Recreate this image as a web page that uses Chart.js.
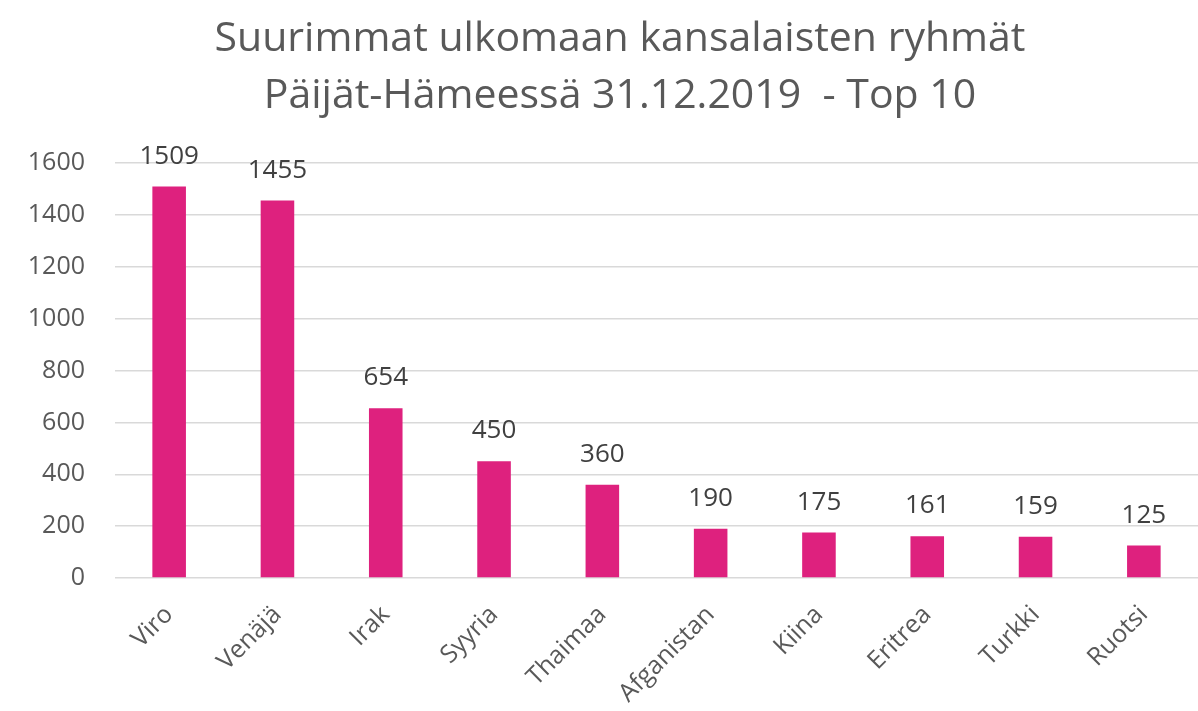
<!DOCTYPE html>
<html>
<head>
<meta charset="utf-8">
<script src="https://cdn.jsdelivr.net/npm/chart.js@4"></script>
<style>
  html, body { margin: 0; padding: 0; background: #fff; }
  #wrap { width: 1198px; height: 711px; position: relative; }
</style>
</head>
<body>
<div id="wrap"><canvas id="chart"></canvas></div>
<script>
const maat = ["Viro", "Venäjä", "Irak", "Syyria", "Thaimaa", "Afganistan", "Kiina", "Eritrea", "Turkki", "Ruotsi"];
const henkilot = [1509, 1455, 654, 450, 360, 190, 175, 161, 159, 125];
const otsikko = ["Suurimmat ulkomaan kansalaisten ryhmät", "Päijät-Hämeessä 31.12.2019  - Top 10"];

const fontti = "'Open Sans', sans-serif";

// arvot pylväiden päälle
const arvoPlugin = {
  id: "arvot",
  afterDatasetsDraw(chart) {
    const ctx = chart.ctx;
    const meta = chart.getDatasetMeta(0);
    ctx.save();
    ctx.font = "26px " + fontti;
    ctx.fillStyle = "#404040";
    ctx.textAlign = "center";
    ctx.textBaseline = "alphabetic";
    meta.data.forEach((bar, i) => {
      ctx.fillText(henkilot[i], bar.x, bar.y - 23);
    });
    ctx.restore();
  }
};

// otsikko piirretään itse, koska se on kuvassa hieman oikealla keskeltä
const otsikkoPlugin = {
  id: "otsikko",
  afterDraw(chart) {
    const ctx = chart.ctx;
    ctx.save();
    ctx.font = "41px " + fontti;
    ctx.fillStyle = "#595959";
    ctx.textAlign = "center";
    ctx.textBaseline = "middle";
    otsikko.forEach((rivi, i) => {
      ctx.fillText(rivi, 620, 39 + i * 57);
    });
    ctx.restore();
  }
};

new Chart(document.getElementById("chart"), {
  type: "bar",
  data: {
    labels: maat,
    datasets: [{
      data: henkilot,
      backgroundColor: "#DE217E",
      borderWidth: 0,
      categoryPercentage: 1,
      barPercentage: 0.31
    }]
  },
  plugins: [arvoPlugin, otsikkoPlugin],
  options: {
    responsive: true,
    maintainAspectRatio: false,
    animation: false,
    layout: { padding: { left: 0, right: 0, top: 163, bottom: 0 } },
    plugins: {
      legend: { display: false },
      tooltip: { enabled: false },
      title: { display: false }
    },
    scales: {
      x: {
        grid: { display: false, drawTicks: false },
        border: { display: false },
        ticks: {
          color: "#595959",
          font: { family: fontti, size: 25 },
          minRotation: 45,
          maxRotation: 45,
          padding: 22
        },
        afterFit(scale) { scale.height = 133; }
      },
      y: {
        min: 0,
        max: 1600,
        grid: { color: "#D9D9D9", lineWidth: 1.5, drawTicks: false },
        border: { display: false },
        ticks: {
          stepSize: 200,
          color: "#595959",
          font: { family: fontti, size: 25 },
          padding: 30,
          callback: (v) => String(v)
        },
        afterFit(scale) { scale.width = 115; }
      }
    }
  }
});
</script>
</body>
</html>
